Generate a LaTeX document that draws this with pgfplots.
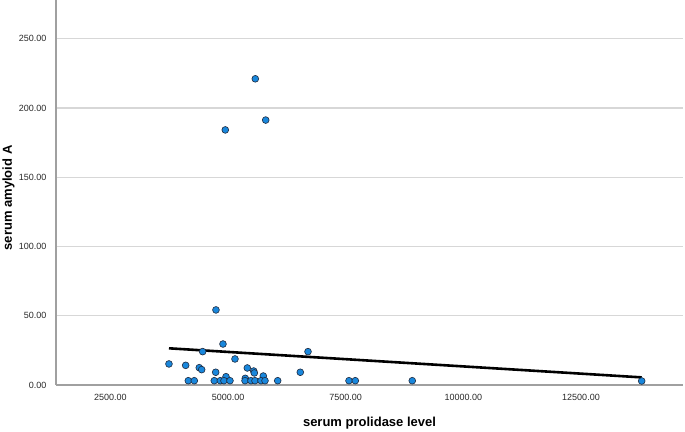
\documentclass[border=0pt]{standalone}
\usepackage{pgfplots}
\pgfplotsset{compat=1.18}
\usepackage{fontspec}
\setmainfont{Liberation Sans}
\definecolor{dotblue}{RGB}{25,135,220}
\definecolor{dotedge}{RGB}{30,40,60}
\definecolor{gridc}{RGB}{215,215,215}
\definecolor{spinec}{RGB}{160,160,160}
\definecolor{tickc}{RGB}{40,40,40}
\begin{document}
\begin{tikzpicture}
\useasboundingbox (-56pt,-46pt) rectangle (629pt,385pt);
\begin{axis}[
  at={(0,0)}, anchor=south west,
  scale only axis, width=627pt, height=385pt,
  xmin=1342, xmax=14668, ymin=0, ymax=278,
  axis lines=left, axis line style={draw=spinec, line width=1.3pt, -},
  xtick={2500,5000,7500,10000,12500},
  ytick={0,50,100,150,200,250},
  scaled ticks=false,
  major tick length=0pt,
  ymajorgrids, grid style={draw=gridc, line width=1.2pt},
  /pgf/number format/.cd, fixed, fixed zerofill, precision=2, 1000 sep={}, assume math mode=true,
  /pgfplots/.cd,
  ticklabel style={font=\fontsize{9}{10}\selectfont, text=tickc},
  xticklabel style={anchor=base, yshift=-15pt},
  yticklabel style={anchor=east, xshift=-6pt},
  xlabel={serum prolidase level},
  ylabel={serum amyloid A},
  label style={font=\fontsize{13}{15}\selectfont\bfseries, text=black},
  xlabel style={at={(axis description cs:0.5,-0.109)}, anchor=base},
  ylabel style={at={(axis description cs:-0.0702,0.486)}, anchor=base},
  clip=false,
]
\addplot[black, line width=2.6pt] coordinates {(3743,26.5) (13790,5.5)};
\addplot[only marks, mark=*, mark size=3.4pt,
  mark options={fill=dotblue, draw=dotedge, line width=0.6pt}]
  coordinates {
  (5578,221.1) (4940,184.2) (5799,191.3)
  (4742,54.2) (4891,29.6) (4459,24.1) (6698,24.1)
  (3743,15.2) (4098,14.2) (4387,12.5) (4438,11.1)
  (5146,18.8) (4736,9.2) (4955,6.0) (5408,12.3)
  (5365,4.8) (5544,10.1) (5557,8.7) (5748,6.5) (6534,9.2)
  (4154,3.1) (4281,3.1) (4706,3.1) (4834,3.1) (4912,3.1)
  (5040,3.1) (5359,3.1) (5486,3.1) (5571,3.1) (5699,3.1)
  (5784,3.1) (6054,3.1) (7569,3.1) (7703,3.1) (8914,3.1)
  (13790,2.9)
  };
\end{axis}
\end{tikzpicture}
\end{document}
